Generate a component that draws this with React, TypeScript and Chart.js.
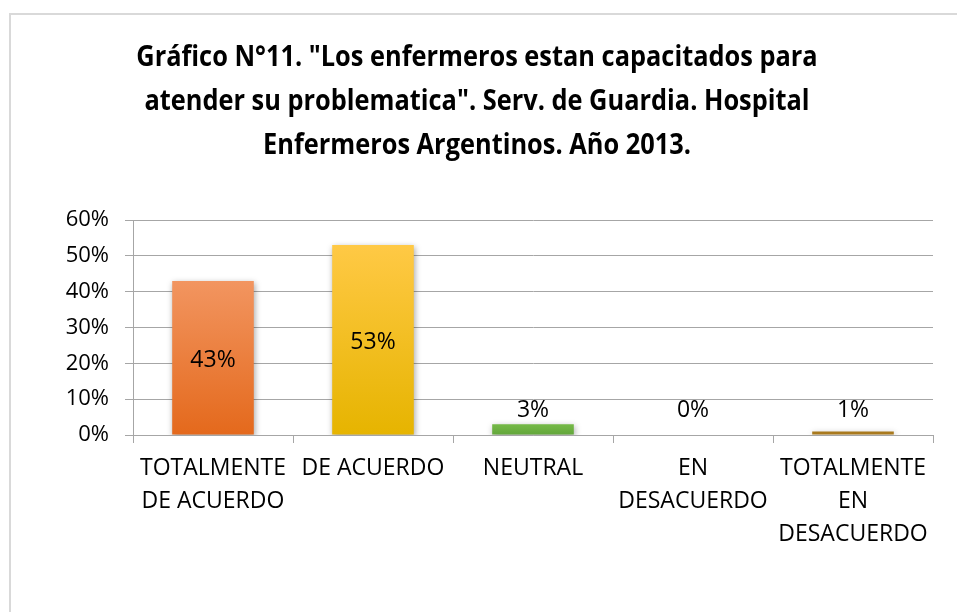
import React, { useEffect, useRef } from "react";
import { Chart, registerables } from "chart.js";

Chart.register(...registerables);

const categories: (string | string[])[] = [
  ["TOTALMENTE", "DE ACUERDO"],
  "DE ACUERDO",
  "NEUTRAL",
  ["EN", "DESACUERDO"],
  ["TOTALMENTE", "EN", "DESACUERDO"],
];
const values = [43, 53, 3, 0, 1];
const valueLabels = ["43%", "53%", "3%", "0%", "1%"];
const titleLines = [
  'Gráfico N°11. "Los enfermeros estan capacitados para',
  'atender su problematica". Serv. de Guardia. Hospital',
  "Enfermeros Argentinos. Año 2013.",
];
const yTicks = [0, 10, 20, 30, 40, 50, 60];

const gradStops: [string, string][] = [
  ["#F29560", "#E4691C"],
  ["#FFC945", "#E6B400"],
  ["#76BA48", "#62A63A"],
  ["#A97A1E", "#A97A1E"],
  ["#A97A1E", "#A97A1E"],
];

const FONT = "'Open Sans', 'DejaVu Sans', sans-serif";

const titlePlugin = {
  id: "customTitle",
  afterDraw(chart: any) {
    const ctx = chart.ctx;
    ctx.save();
    ctx.fillStyle = "#000";
    ctx.textAlign = "center";
    ctx.textBaseline = "middle";
    ctx.font = `bold 29px ${FONT}`;
    titleLines.forEach((line, i) => {
      ctx.save();
      ctx.translate(477, 58 + i * 44);
      ctx.scale(0.875, 1);
      ctx.fillText(line, 0, 0);
      ctx.restore();
    });
    ctx.restore();
  },
};

const shadowPlugin = {
  id: "barShadow",
  beforeDatasetDraw(chart: any) {
    const ctx = chart.ctx;
    ctx.save();
    ctx.shadowColor = "rgba(0,0,0,0.35)";
    ctx.shadowBlur = 6;
    ctx.shadowOffsetX = 1;
    ctx.shadowOffsetY = 2;
  },
  afterDatasetDraw(chart: any) {
    chart.ctx.restore();
  },
};

const labelPlugin = {
  id: "valueLabels",
  afterDatasetsDraw(chart: any) {
    const ctx = chart.ctx;
    const meta = chart.getDatasetMeta(0);
    const yScale = chart.scales.y;
    const base = yScale.getPixelForValue(0);
    ctx.save();
    ctx.fillStyle = "#000";
    ctx.textAlign = "center";
    ctx.textBaseline = "middle";
    ctx.font = `23px ${FONT}`;
    meta.data.forEach((bar: any, i: number) => {
      const top = bar.y;
      const y = Math.min((top + base) / 2, base - 27);
      ctx.fillText(valueLabels[i], bar.x, y + 2);
    });
    ctx.restore();
  },
};

export default function App() {
  const ref = useRef<HTMLCanvasElement>(null);
  useEffect(() => {
    document.body.style.margin = "0";
    const canvas = ref.current!;
    const chart = new Chart(canvas, {
      type: "bar",
      data: {
        labels: categories,
        datasets: [
          {
            data: values,
            backgroundColor: (c: any) => {
              const area = c.chart.chartArea;
              const i = c.dataIndex;
              if (!area || i === undefined) return gradStops[0][0];
              const yS = c.chart.scales.y;
              const top = yS.getPixelForValue(values[i]);
              const bottom = yS.getPixelForValue(0);
              const g = c.chart.ctx.createLinearGradient(0, top, 0, bottom + 0.01);
              g.addColorStop(0, gradStops[i][0]);
              g.addColorStop(1, gradStops[i][1]);
              return g;
            },
            borderWidth: 0,
            categoryPercentage: 1,
            barPercentage: 0.51,
          },
        ],
      },
      options: {
        responsive: false,
        animation: false,
        devicePixelRatio: 1,
        layout: { padding: { left: 10, right: 24, top: 220, bottom: 30 } },
        plugins: {
          legend: { display: false },
          title: { display: false },
          tooltip: { enabled: false },
        },
        scales: {
          x: {
            grid: {
              display: true,
              drawOnChartArea: false,
              drawTicks: true,
              tickLength: 8,
              color: "#A6A6A6",
              offset: true,
            },
            border: { display: true, color: "#A6A6A6", width: 1 },
            ticks: {
              color: "#000",
              font: { family: FONT, size: 23, lineHeight: 1.43 },
              padding: 9,
              maxRotation: 0,
              autoSkip: false,
            },
            afterFit: (s: any) => {
              s.height = 147;
            },
          },
          y: {
            min: 0,
            max: 60,
            afterBuildTicks: (s: any) => {
              s.ticks = yTicks.map((v) => ({ value: v }));
            },
            grid: {
              color: "#A6A6A6",
              drawTicks: true,
              tickLength: 8,
            },
            border: { display: true, color: "#A6A6A6", width: 1 },
            ticks: {
              color: "#000",
              font: { family: FONT, size: 22 },
              padding: 16,
              callback: (v: any) => v + "%",
            },
            afterFit: (s: any) => {
              s.width = 123;
            },
          },
        },
      },
      plugins: [shadowPlugin, labelPlugin, titlePlugin],
    });
    return () => chart.destroy();
  }, []);
  return (
    <div style={{ position: "relative", width: 957, height: 612, background: "#fff", overflow: "hidden" }}>
      <div
        style={{
          position: "absolute",
          left: 9,
          top: 13,
          width: 960,
          height: 620,
          border: "2px solid #D9D9D9",
          boxSizing: "border-box",
        }}
      />
      <canvas ref={ref} width={957} height={612} style={{ position: "absolute", left: 0, top: 0, width: 957, height: 612 }} />
    </div>
  );
}
